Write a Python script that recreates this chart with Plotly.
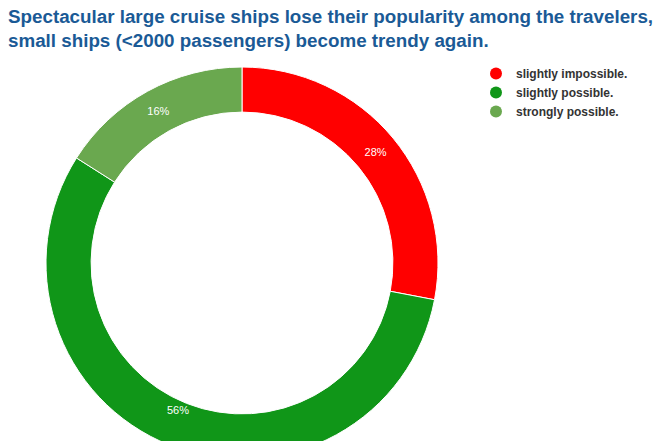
import math
import plotly.graph_objects as go

# Survey answers and their shares (percent)
labels = ["slightly impossible.", "slightly possible.", "strongly possible."]
values = [28, 56, 16]
colors = ["#ff0000", "#109618", "#6aa84f"]

title_lines = [
    "Spectacular large cruise ships lose their popularity among the travelers,",
    "small ships (<2000 passengers) become trendy again.",
]

W, H = 660, 470  # page is taller than the viewport, so the ring runs off the bottom
VIEW_H = 441     # visible part of the page
cx, cy, r = 242, 263, 196
hole = 0.77

total = sum(values)
pct_text = [f"{round(100 * v / total)}%" for v in values]

# Slice labels sit on the ring's mid radius; a label that would fall past the
# visible bottom edge is lifted back into view and drawn as an annotation.
mid_r = r * (1 + hole) / 2
slice_text, lifted = [], []
acc = 0
for v, t in zip(values, pct_text):
    ang = 2 * math.pi * (acc + v / 2) / total
    acc += v
    lx = cx + mid_r * math.sin(ang)
    ly = cy - mid_r * math.cos(ang)
    if ly > VIEW_H - 30:
        slice_text.append("")
        lifted.append((t, lx, VIEW_H - 31))
    else:
        slice_text.append(t)

fig = go.Figure()
fig.add_trace(go.Pie(
    labels=labels,
    values=values,
    hole=hole,
    sort=False,
    direction="clockwise",
    rotation=0,
    marker=dict(colors=colors, line=dict(color="white", width=1)),
    text=slice_text,
    textinfo="text",
    textposition="inside",
    insidetextorientation="horizontal",
    textfont=dict(family="Liberation Sans, Arial", size=11, color="white"),
    showlegend=False,
    hoverinfo="label+percent",
    domain=dict(x=[(cx - r) / W, (cx + r) / W], y=[(H - cy - r) / H, (H - cy + r) / H]),
))

for t, lx, ly in lifted:
    fig.add_annotation(
        text=t, xref="paper", yref="paper", x=lx / W, y=1 - ly / H,
        xanchor="center", yanchor="middle", showarrow=False,
        font=dict(family="Liberation Sans, Arial", size=11, color="white"),
    )

# Legend entries with round markers
for lab, col in zip(labels, colors):
    fig.add_trace(go.Scatter(
        x=[None], y=[None], mode="markers", name=lab,
        marker=dict(symbol="circle", size=13, color=col),
    ))

fig.add_annotation(
    text="<br>".join(title_lines),
    xref="paper", yref="paper", x=6 / W, y=1 - 4 / H,
    xanchor="left", yanchor="top", align="left", showarrow=False,
    font=dict(family="Liberation Sans, Arial", size=18.8, color="#1a5a96", weight="bold"),
)

fig.update_layout(
    width=W, height=H,
    margin=dict(l=0, r=0, t=0, b=0),
    paper_bgcolor="white", plot_bgcolor="white",
    xaxis=dict(visible=False), yaxis=dict(visible=False),
    legend=dict(
        x=476 / W, xanchor="left", y=1 - 59 / H, yanchor="top",
        font=dict(family="Liberation Sans, Arial", size=12, color="#333333", weight="bold"),
        bgcolor="rgba(0,0,0,0)", tracegroupgap=0, itemsizing="constant",
    ),
)

fig.write_html("out.html", post_script="document.body.style.overflow='hidden';")
